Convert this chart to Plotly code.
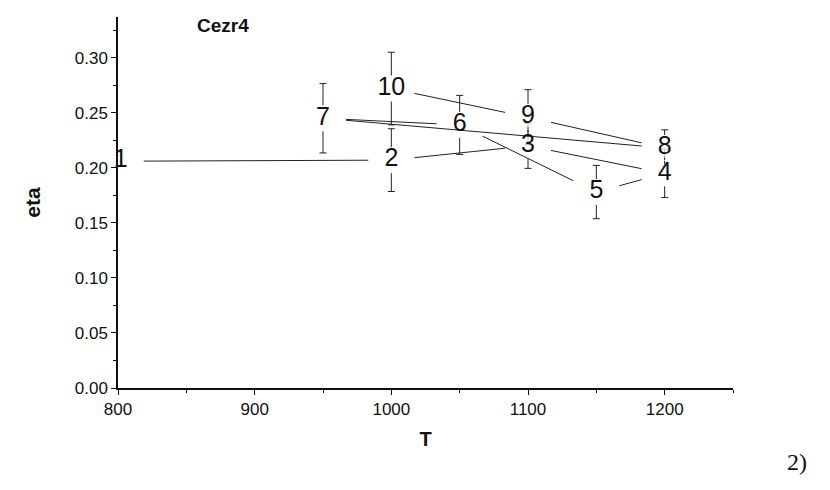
import math
import plotly.graph_objects as go

# Numbered measurements, in the order they are joined
point_labels = ["1", "2", "3", "4", "5", "6", "7", "8", "9", "10"]
temps = [802, 1000, 1100, 1200, 1150, 1050, 950, 1200, 1100, 1000]
eta = [0.206, 0.207, 0.220, 0.195, 0.178, 0.239, 0.245, 0.218, 0.246, 0.272]
eta_err = [None, 0.0285, 0.0205, 0.022, 0.0242, 0.0268, 0.0315, 0.0165, 0.025, 0.033]

x_ticks = [800, 900, 1000, 1100, 1200]
y_ticks = [0.00, 0.05, 0.10, 0.15, 0.20, 0.25, 0.30]

X_RANGE = [800, 1250]
Y_RANGE = [0, 0.337]
WIDTH, HEIGHT = 830, 490
MARGIN = dict(l=118, r=97, t=17, b=102, pad=0)

FONT = "Arial, 'Liberation Sans', Helvetica, sans-serif"
INK = "#111111"
LINE = "#222222"

# pixels per data unit, used to keep lines clear of the number symbols
px_x = (WIDTH - MARGIN["l"] - MARGIN["r"]) / (X_RANGE[1] - X_RANGE[0])
px_y = (HEIGHT - MARGIN["t"] - MARGIN["b"]) / (Y_RANGE[1] - Y_RANGE[0])
GAP_X, GAP_Y = 23.0, 13.0
CAP_PX = 5
LABEL_SIZE = 25


def gapped_segment(i, j):
    dx = (temps[j] - temps[i]) * px_x
    dy = (eta[j] - eta[i]) * px_y
    tx = GAP_X / abs(dx) if dx else math.inf
    ty = GAP_Y / abs(dy) if dy else math.inf
    t = min(tx, ty)
    if t >= 0.5:
        return None
    x0 = temps[i] + t * (temps[j] - temps[i])
    y0 = eta[i] + t * (eta[j] - eta[i])
    x1 = temps[j] - t * (temps[j] - temps[i])
    y1 = eta[j] - t * (eta[j] - eta[i])
    return (x0, y0), (x1, y1)


line_x, line_y = [], []
for k in range(len(temps) - 1):
    seg = gapped_segment(k, k + 1)
    if seg:
        (x0, y0), (x1, y1) = seg
        line_x += [x0, x1, None]
        line_y += [y0, y1, None]

# error bars, broken around each number
gap_data = GAP_Y / px_y
err_x, err_y, cap_x, cap_y = [], [], [], []
for t_val, e_val, d in zip(temps, eta, eta_err):
    if d is None:
        continue
    if d > gap_data:
        err_x += [t_val, t_val, None, t_val, t_val, None]
        err_y += [e_val + gap_data, e_val + d, None, e_val - gap_data, e_val - d, None]
    cap_x += [t_val, t_val]
    cap_y += [e_val + d, e_val - d]

# white patch behind each number glyph so neighbouring error bars pass under it
mask_w = [0.55 * LABEL_SIZE * len(s) for s in point_labels]

fig = go.Figure()
fig.add_trace(go.Scatter(x=err_x, y=err_y, mode="lines",
                         line=dict(color=LINE, width=1), hoverinfo="skip"))
fig.add_trace(go.Scatter(x=cap_x, y=cap_y, mode="markers",
                         marker=dict(symbol="line-ew", size=CAP_PX,
                                     line=dict(color=LINE, width=1)),
                         hoverinfo="skip"))
fig.add_trace(go.Scatter(x=temps, y=eta, mode="markers",
                         marker=dict(symbol="line-ew", size=mask_w,
                                     line=dict(color="white", width=19)),
                         hoverinfo="skip", cliponaxis=False))
fig.add_trace(go.Scatter(x=line_x, y=line_y, mode="lines",
                         line=dict(color=LINE, width=1), hoverinfo="skip"))
fig.add_trace(go.Scatter(x=temps, y=eta, mode="text", text=point_labels,
                         textposition="middle center",
                         textfont=dict(family=FONT, size=LABEL_SIZE, color=INK),
                         cliponaxis=False))

axis_common = dict(
    showgrid=False, zeroline=False, showline=True, linecolor=INK, linewidth=1.5,
    ticks="outside", ticklen=5, tickwidth=1, tickcolor=INK,
    tickfont=dict(family=FONT, size=17, color=INK),
    mirror=False, layer="above traces",
)

fig.update_layout(
    width=WIDTH, height=HEIGHT, margin=MARGIN,
    paper_bgcolor="white", plot_bgcolor="white",
    showlegend=False,
    xaxis=dict(range=X_RANGE, tickvals=x_ticks, ticktext=[str(v) for v in x_ticks],
               minor=dict(dtick=50, ticklen=3, ticks="outside", tickcolor=INK),
               title=dict(text="T", standoff=14,
                          font=dict(family=FONT, size=20, color=INK, weight="bold")),
               **axis_common),
    yaxis=dict(range=Y_RANGE, tickvals=y_ticks, ticktext=[f"{v:.2f}" for v in y_ticks],
               minor=dict(dtick=0.025, ticklen=3, ticks="outside", tickcolor=INK),
               title=dict(text="eta", standoff=28,
                          font=dict(family=FONT, size=21, color=INK, weight="bold")),
               **axis_common),
    annotations=[
        dict(text="Cezr4", xref="paper", yref="paper", x=0.17, y=0.978,
             showarrow=False, xanchor="center", yanchor="middle",
             font=dict(family=FONT, size=19, color=INK, weight="bold")),
        dict(text="2)", xref="paper", yref="paper",
             x=(797 - MARGIN["l"]) / (WIDTH - MARGIN["l"] - MARGIN["r"]),
             y=-(462 - (HEIGHT - MARGIN["b"])) / (HEIGHT - MARGIN["t"] - MARGIN["b"]),
             showarrow=False, xanchor="center", yanchor="middle",
             font=dict(family="'Liberation Serif', 'Times New Roman', serif", size=24, color=INK)),
    ],
)

fig.write_html("out.html")
